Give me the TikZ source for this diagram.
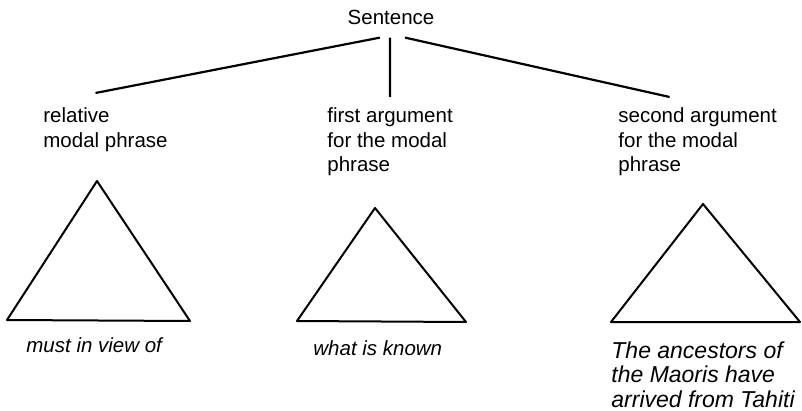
\documentclass[tikz,border=0pt]{standalone}
\usepackage{fontspec}
\setmainfont{Liberation Sans}
\usepackage{tikz}

\begin{document}
\begin{tikzpicture}[x=0.5pt,y=-0.5pt,
              phrase/.style={font=\fontsize{10.25}{12.25}\selectfont, align=left, inner sep=0pt, anchor=north west},
              words/.style={font=\fontsize{10.25}{12.25}\selectfont\itshape, align=left, inner sep=0pt, anchor=north west},
              branch/.style={line width=1.1pt},
              tri/.style={line width=1pt, line join=round}]
  \useasboundingbox (0,0) rectangle (802,411);
  \node[font=\fontsize{10.25}{12.25}\selectfont, inner sep=6pt, anchor=base] (S) at (391,25) {Sentence};
  \node[phrase] (RMP) at (43,107.5) {relative\\modal phrase};
  \node[phrase] (FA) at (327,107.5) {first argument\\for the modal\\phrase};
  \node[phrase] (SA) at (618,107.5) {second argument\\for the modal\\phrase};
  \draw[branch] ([xshift=-5.5pt]S.south) -- ([xshift=-5pt,yshift=7.25pt]RMP.north);
  \draw[branch] ([xshift=-0.5pt]S.south) -- ([yshift=5.25pt]FA.north);
  \draw[branch] ([xshift=7pt]S.south) -- ([xshift=-14pt,yshift=5.25pt]SA.north);
  % the three triangles
  \draw[tri] (97,181) -- (7,320) -- (190,321) -- cycle;
  \draw[tri] (375,208) -- (297,321) -- (466,322) -- cycle;
  \draw[tri] (703,204) -- (611,322) -- (800,322) -- cycle;
  \node[words] (W1) at (26,337) {must in view of};
  \node[words] (W2) at (313,340) {what is known};
  \node[words, font=\fontsize{11.5}{12.35}\selectfont\itshape] (W3) at (611,341) {The ancestors of\\the Maoris have\\arrived from Tahiti};
\end{tikzpicture}
\end{document}
